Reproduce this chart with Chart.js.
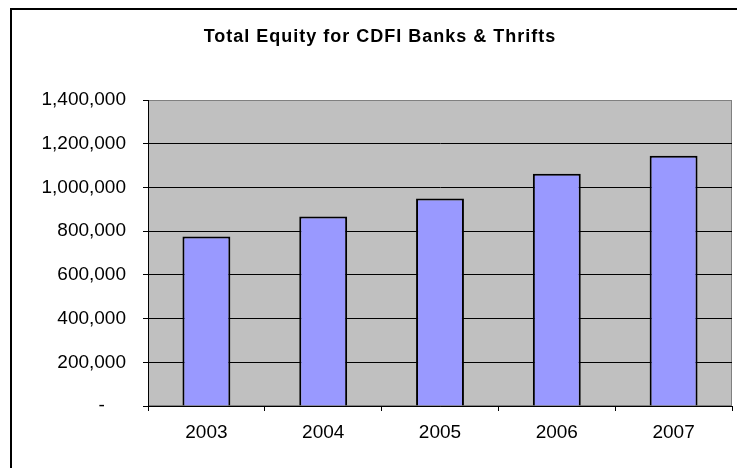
<!DOCTYPE html>
<html>
<head>
<meta charset="utf-8">
<script src="https://cdn.jsdelivr.net/npm/chart.js@4"></script>
<style>
  html, body { margin: 0; padding: 0; background: #ffffff; }
  #wrap { width: 737px; height: 468px; }
</style>
</head>
<body>
<div id="wrap"><canvas id="equity-chart" width="737" height="468"></canvas></div>
<script>
// Chart data
const years = ["2003", "2004", "2005", "2006", "2007"];
const totalEquity = [775000, 867000, 949000, 1063000, 1145000];
const chartTitle = "Total Equity for CDFI Banks & Thrifts";
const yMax = 1400000;
const yStep = 200000;

// Grey plot area + outer frame, Excel style
const plotBackground = {
  id: "plotBackground",
  beforeDraw(chart) {
    const { ctx, chartArea: a } = chart;
    ctx.save();
    // outer frame (runs off the right and bottom edges)
    ctx.strokeStyle = "#000000";
    ctx.lineWidth = 2;
    ctx.strokeRect(11, 9, 760, 500);
    ctx.fillStyle = "#c0c0c0";
    ctx.fillRect(a.left, a.top, a.right - a.left, a.bottom - a.top);
    ctx.strokeStyle = "#808080";
    ctx.lineWidth = 1;
    ctx.strokeRect(a.left + 0.5, a.top + 0.5, a.right - a.left - 1, a.bottom - a.top - 1);
    ctx.restore();
  }
};

// Title drawn by hand so it can get Excel's loose letter spacing
const spacedTitle = {
  id: "spacedTitle",
  afterDraw(chart) {
    const { ctx } = chart;
    ctx.save();
    ctx.font = "bold 18px 'Liberation Sans', Arial, sans-serif";
    ctx.letterSpacing = "1px";
    ctx.fillStyle = "#000000";
    ctx.textAlign = "center";
    ctx.textBaseline = "middle";
    ctx.fillText(chartTitle, 380, 37);
    ctx.restore();
  }
};

Chart.defaults.font.family = "'Liberation Sans', Arial, sans-serif";
Chart.defaults.color = "#000000";

const ctx = document.getElementById("equity-chart").getContext("2d");
new Chart(ctx, {
  type: "bar",
  data: {
    labels: years,
    datasets: [{
      label: "Total Equity",
      data: totalEquity,
      backgroundColor: "#9999ff",
      borderColor: "#000000",
      borderWidth: 2,
      borderSkipped: "bottom",
      barPercentage: 0.41,
      categoryPercentage: 1.0,
    }],
  },
  options: {
    responsive: false,
    animation: false,
    layout: {
      padding: { left: 0, right: 5, top: 100, bottom: 0 },
    },
    plugins: {
      legend: { display: false },
      tooltip: { enabled: false },
      title: { display: false },
    },
    scales: {
      y: {
        min: 0,
        max: yMax,
        afterFit(scale) { scale.width = 148; },
        ticks: {
          stepSize: yStep,
          padding: 17,
          font: { size: 19 },
          color: "#000000",
          callback: (v) => v === 0 ? "-    " : v.toLocaleString("en-US"),
        },
        grid: {
          color: (c) => c.index === 7 ? "#808080" : "#000000",
          lineWidth: 1,
          tickLength: 5,
          tickColor: "#000000",
        },
        border: { display: true, color: "#000000", width: 1 },
      },
      x: {
        offset: true,
        afterFit(scale) { scale.height = 62; },
        ticks: {
          padding: 10,
          font: { size: 19 },
          color: "#000000",
        },
        grid: {
          offset: true,
          drawOnChartArea: false,
          tickLength: 5,
          tickColor: "#000000",
        },
        border: { display: true, color: "#000000", width: 1 },
      },
    },
  },
  plugins: [plotBackground, spacedTitle],
});
</script>
</body>
</html>
